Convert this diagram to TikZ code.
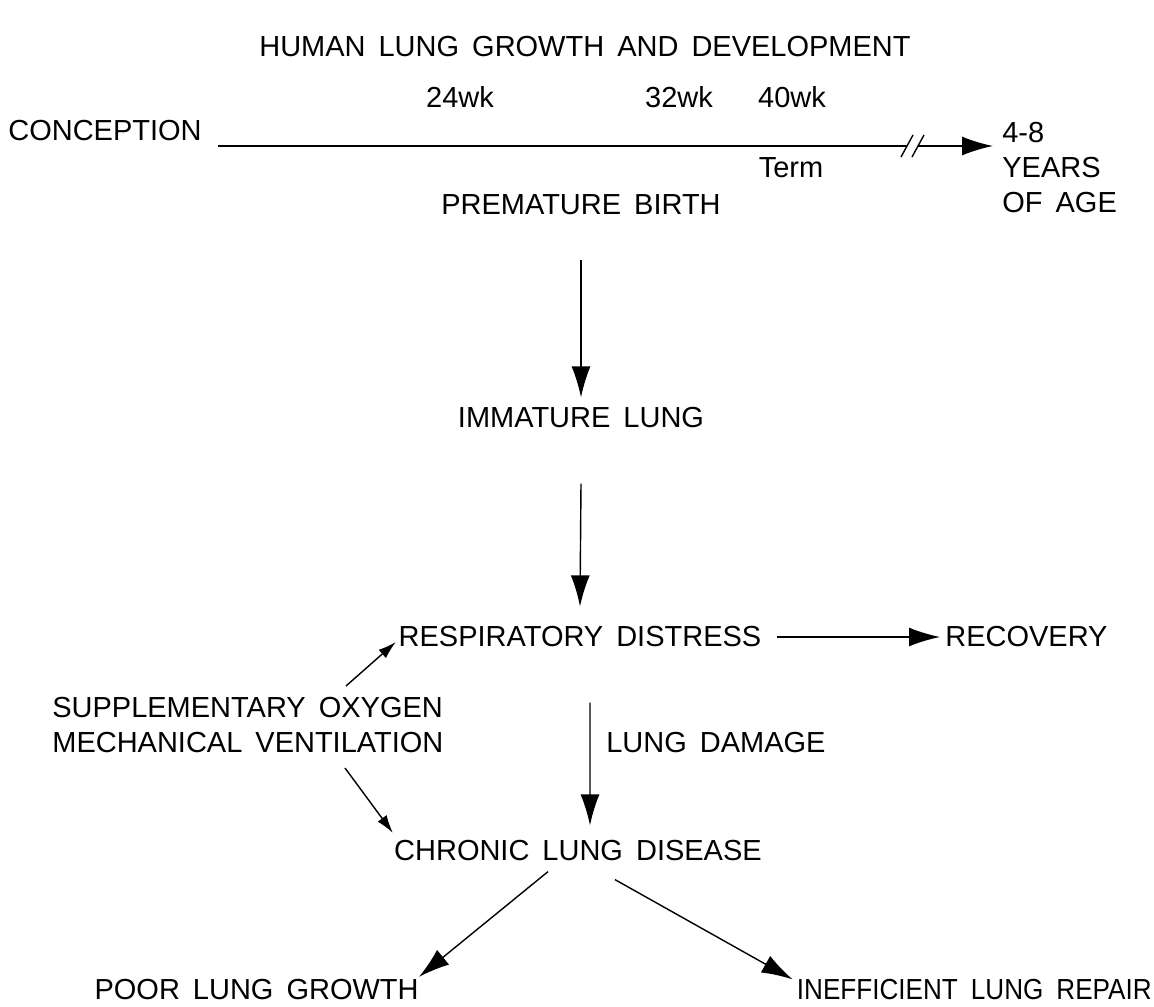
\documentclass[tikz,border=0pt]{standalone}
\usepackage{fontspec}
\setmainfont{Liberation Sans}
\usepackage{tikz}
\usetikzlibrary{arrows.meta}
\usetikzlibrary{positioning}
\newcommand\lblfont{\fontsize{16.5}{20}\selectfont\spaceskip=0.45em plus 0.1em\relax}
\tikzstyle{lbl}=[inner sep=0pt,text=black,font=\lblfont]
\tikzstyle{suite}=[-{Latex[length=0.62cm,width=0.38cm]},thick]
\tikzstyle{petit}=[-{Latex[length=0.36cm,width=0.22cm]},thick]
\tikzstyle{brk}=[thick]

\begin{document}
\begin{tikzpicture}[x=0.02cm,y=-0.02cm]
\useasboundingbox (0,0) rectangle (1154,1007);
\node[lbl] (titre) at (585,47) {HUMAN LUNG GROWTH AND DEVELOPMENT};
\node[lbl] (wka) at (460,97) {24wk};
\node[lbl] (wkb) at (679,97) {32wk};
\node[lbl] (wkc) at (792,97) {40wk};
\node[lbl,anchor=west] (concep) at (8,131) {CONCEPTION};
\node[lbl] (term) at (791,168) {Term};
\node[lbl,anchor=north west,align=left] (yrs) at (1002,122) {4-8\\YEARS\\OF AGE};
\node[lbl] (premat) at (581,205) {PREMATURE BIRTH};
\node[lbl] (immat) at (581,418) {IMMATURE LUNG};
\node[lbl] (resp) at (580,637) {RESPIRATORY DISTRESS};
\node[lbl,anchor=west] (recov) at (945,637) {RECOVERY};
\node[lbl,anchor=west,align=left] (suppl) at (52,725) {SUPPLEMENTARY OXYGEN\\MECHANICAL VENTILATION};
\node[lbl,anchor=west] (dmg) at (606,743) {LUNG DAMAGE};
\node[lbl] (chron) at (578,851) {CHRONIC LUNG DISEASE};
\node[lbl,anchor=east] (poor) at (419,990) {POOR LUNG GROWTH};
\node[lbl,anchor=east,font=\lblfont\addfontfeature{FakeStretch=0.9}] (ineff) at (1152,990) {INEFFICIENT LUNG REPAIR};
\coordinate (tdeb) at (218,146);
\coordinate (brka) at (907,146);
\coordinate (brkb) at (918,146);
\coordinate (tfin) at (993,146);
%Drawing Edges
\draw[brk] (tdeb) -- (brka);
\draw[suite] (brkb) -- (tfin);
\draw[brk] ([shift={(-6,11)}]brka) -- ([shift={(6,-11)}]brka);
\draw[brk] ([shift={(-6,11)}]brkb) -- ([shift={(6,-11)}]brkb);
\draw[suite] ([yshift=-0.9cm]premat.south) -- ([yshift=0.2cm]immat.north);
\draw[suite] ([yshift=-1.1cm]immat.south) -- ([yshift=0.4cm]resp.north);
\draw[suite] ([xshift=0.3cm]resp.east) -- ([xshift=-0.1cm]recov.west);
\draw[suite] ([xshift=0.2cm,yshift=-1.1cm]resp.south) -- ([xshift=0.24cm,yshift=0.3cm]chron.north);
\draw[petit] (346,686) -- ([xshift=-0.05cm,yshift=-0.1cm]resp.west);
\draw[petit] (345,768) -- ([xshift=-0.02cm,yshift=0.15cm]chron.north west);
\draw[suite] ([xshift=-0.6cm,yshift=-0.2cm]chron.south) -- ([yshift=0.05cm]poor.north east);
\draw[suite] ([xshift=0.74cm,yshift=-0.36cm]chron.south) -- ([xshift=-0.08cm]ineff.north west);
\end{tikzpicture}
\end{document}
